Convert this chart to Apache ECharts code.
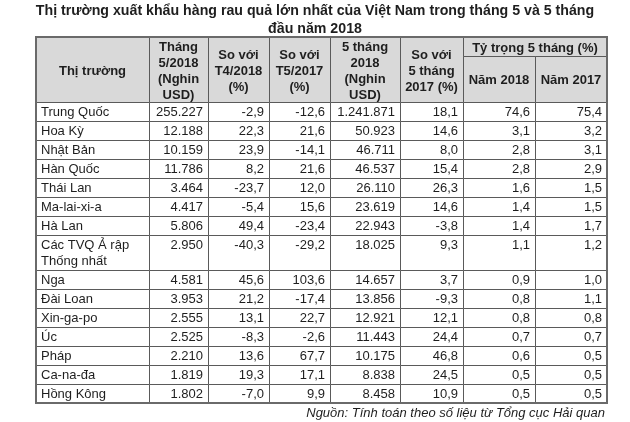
<!DOCTYPE html>
<html>
<head>
<meta charset="utf-8">
<script src="https://cdn.jsdelivr.net/npm/echarts@6/dist/echarts.min.js"></script>
<style>html,body{margin:0;padding:0;background:#fff}#c{width:630px;height:422px}</style>
</head>
<body>
<div id="c"></div>
<script>
// ---- data ----
var titleLine1 = 'Thị trường xuất khẩu hàng rau quả lớn nhất của Việt Nam trong tháng 5 và 5 tháng';
var titleLine2 = 'đầu năm 2018';
var sourceNote = 'Nguồn: Tính toán theo số liệu từ Tổng cục Hải quan';
var headers = ['Thị trường', 'Tháng\n5/2018\n(Nghin\nUSD)', 'So với\nT4/2018\n(%)', 'So với\nT5/2017\n(%)',
               '5 tháng\n2018\n(Nghin\nUSD)', 'So với\n5 tháng\n2017 (%)'];
var shareHeader = 'Tỷ trọng 5 tháng (%)';
var shareSubHeaders = ['Năm 2018', 'Năm 2017'];
var markets = ['Trung Quốc', 'Hoa Kỳ', 'Nhật Bản', 'Hàn Quốc', 'Thái Lan', 'Ma-lai-xi-a', 'Hà Lan',
               'Các TVQ Ả rập\nThống nhất', 'Nga', 'Đài Loan', 'Xin-ga-po', 'Úc', 'Pháp', 'Ca-na-đa', 'Hồng Kông'];
var may2018 = [255227, 12188, 10159, 11786, 3464, 4417, 5806, 2950, 4581, 3953, 2555, 2525, 2210, 1819, 1802];
var vsApr2018 = [-2.9, 22.3, 23.9, 8.2, -23.7, -5.4, 49.4, -40.3, 45.6, 21.2, 13.1, -8.3, 13.6, 19.3, -7.0];
var vsMay2017 = [-12.6, 21.6, -14.1, 21.6, 12.0, 15.6, -23.4, -29.2, 103.6, -17.4, 22.7, -2.6, 67.7, 17.1, 9.9];
var fiveMonths2018 = [1241871, 50923, 46711, 46537, 26110, 23619, 22943, 18025, 14657, 13856, 12921, 11443, 10175, 8838, 8458];
var vsFiveMonths2017 = [18.1, 14.6, 8.0, 15.4, 26.3, 14.6, -3.8, 9.3, 3.7, -9.3, 12.1, 24.4, 46.8, 24.5, 10.9];
var share2018 = [74.6, 3.1, 2.8, 2.8, 1.6, 1.4, 1.4, 1.1, 0.9, 0.8, 0.8, 0.7, 0.6, 0.5, 0.5];
var share2017 = [75.4, 3.2, 3.1, 2.9, 1.5, 1.5, 1.7, 1.2, 1.0, 1.1, 0.8, 0.7, 0.5, 0.5, 0.5];

// ---- layout / style ----
var FONT = '"Liberation Sans", Arial, sans-serif';
var colWidths = [113, 59, 61, 61, 70, 63, 72, 72];
var HEADER_H = 65, SUBHEADER_SPLIT = 19, ROW_H = 19, ROW_H_DOUBLE = 35;
var LINE = '#5a5a5a', HEAD_BG = '#d9d9d9', TEXT = '#1e1e1e';

var colStart = [0];
colWidths.forEach(function (w, i) { colStart.push(colStart[i] + w); });
var tableW = colStart[colStart.length - 1];
var rowHeights = markets.map(function (m) { return m.indexOf('\n') >= 0 ? ROW_H_DOUBLE : ROW_H; });
var rowStart = [HEADER_H];
rowHeights.forEach(function (h, i) { rowStart.push(rowStart[i] + h); });
var tableH = rowStart[rowStart.length - 1];

function fmtThousands(v) { return String(v).replace(/\B(?=(\d{3})+(?!\d))/g, '.'); }
function fmtPct(v) { return v.toFixed(1).replace('.', ','); }

function px(v) { return Math.round(v) + 0.5; }
function cellRect(api, x0, y0, x1, y1, fill) {
  var a = api.coord([x0, y0]), b = api.coord([x1, y1]);
  var l = px(a[0]), t = px(a[1]), r = px(b[0]), bt = px(b[1]);
  return { type: 'rect', shape: { x: l, y: t, width: r - l, height: bt - t },
           style: { fill: fill, stroke: LINE, lineWidth: 1 } };
}

var chart = echarts.init(document.getElementById('c'), null, { renderer: 'canvas' });
chart.setOption({
  animation: false,
  title: [{
    text: titleLine1, subtext: titleLine2, left: 'center', top: 4, padding: 0, itemGap: 4,
    textStyle: { fontFamily: FONT, fontSize: 14.2, fontWeight: 'bold', color: TEXT },
    subtextStyle: { fontFamily: FONT, fontSize: 14.2, fontWeight: 'bold', color: TEXT }
  }, {
    text: sourceNote, right: 20, top: 402,
    textStyle: { fontFamily: FONT, fontSize: 13, fontStyle: 'italic', fontWeight: 'normal', color: TEXT }
  }],
  grid: { left: 36, top: 37, width: tableW, height: tableH },
  xAxis: { type: 'value', min: 0, max: tableW, show: false },
  yAxis: { type: 'value', min: 0, max: tableH, inverse: true, show: false },
  series: [{
    type: 'custom', z: 2, silent: true,
    data: markets.map(function (m, i) { return [i]; }),
    renderItem: function (params, api) {
      var i = api.value(0);
      var y0 = rowStart[i], y1 = rowStart[i + 1];
      var vals = [markets[i], fmtThousands(may2018[i]), fmtPct(vsApr2018[i]), fmtPct(vsMay2017[i]),
                  fmtThousands(fiveMonths2018[i]), fmtPct(vsFiveMonths2017[i]), fmtPct(share2018[i]), fmtPct(share2017[i])];
      var children = [];
      for (var c = 0; c < colWidths.length; c++) {
        children.push(cellRect(api, colStart[c], y0, colStart[c + 1], y1, '#fff'));
        var a = api.coord([colStart[c], y0]), b = api.coord([colStart[c + 1], y1]);
        children.push({ type: 'text', style: {
          text: vals[c], x: c === 0 ? a[0] + 5 : b[0] - 5, y: a[1] + 2,
          align: c === 0 ? 'left' : 'right', verticalAlign: 'top', lineHeight: 16,
          font: '13px ' + FONT, fill: TEXT } });
      }
      return { type: 'group', children: children };
    }
  }, {
    type: 'custom', z: 3, silent: true,
    data: [[0]],
    renderItem: function (params, api) {
      var children = [];
      function label(txt, x0, y0, x1, y1) {
        var a = api.coord([x0, y0]), b = api.coord([x1, y1]);
        children.push({ type: 'text', style: {
          text: txt, x: (a[0] + b[0]) / 2, y: (a[1] + b[1]) / 2 + 1.5,
          align: 'center', verticalAlign: 'middle', lineHeight: 16,
          font: 'bold 13px ' + FONT, fill: TEXT } });
      }
      for (var c = 0; c < headers.length; c++) {
        children.push(cellRect(api, colStart[c], 0, colStart[c + 1], HEADER_H, HEAD_BG));
        label(headers[c], colStart[c], 0, colStart[c + 1], HEADER_H);
      }
      var n = colWidths.length;
      children.push(cellRect(api, colStart[n - 2], 0, colStart[n], SUBHEADER_SPLIT, HEAD_BG));
      label(shareHeader, colStart[n - 2], 0, colStart[n], SUBHEADER_SPLIT);
      for (var k = 0; k < 2; k++) {
        children.push(cellRect(api, colStart[n - 2 + k], SUBHEADER_SPLIT, colStart[n - 1 + k], HEADER_H, HEAD_BG));
        label(shareSubHeaders[k], colStart[n - 2 + k], SUBHEADER_SPLIT, colStart[n - 1 + k], HEADER_H);
      }
      var a = api.coord([0, 0]), b = api.coord([tableW, tableH]);
      children.push({ type: 'rect', shape: { x: Math.round(a[0]), y: Math.round(a[1]),
        width: Math.round(b[0]) - Math.round(a[0]), height: Math.round(b[1]) - Math.round(a[1]) },
        style: { fill: null, stroke: '#6a6a6a', lineWidth: 2 } });
      return { type: 'group', children: children };
    }
  }]
});
</script>
</body>
</html>
